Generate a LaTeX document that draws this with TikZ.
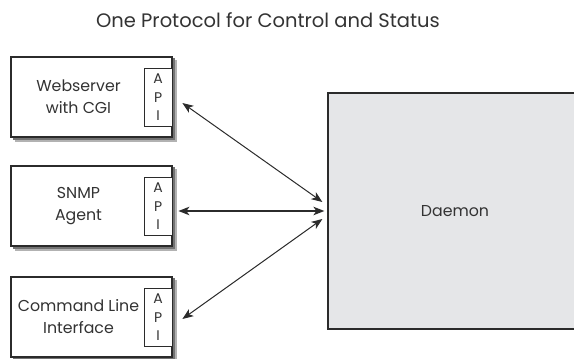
\documentclass[tikz,border=0pt]{standalone}
\usepackage{fontspec}
\setmainfont{Poppins}
\usetikzlibrary{calc,arrows.meta}
\definecolor{ink}{HTML}{2B2B2B}
\definecolor{txt}{HTML}{333333}
\definecolor{dfill}{HTML}{E5E6E8}
\tikzset{
  unit/.style={x=1pt,y=-1pt},
  outerbox/.style={draw=ink, line width=1.2pt, fill=white, minimum width=161pt, minimum height=80pt, inner sep=0pt},
  apibox/.style={draw=ink, line width=0.9pt, fill=white, minimum width=28pt, minimum height=58pt, inner sep=0pt, align=center, font=\fontsize{14}{18.5}\selectfont, text=txt},
  label/.style={align=center, font=\fontsize{15.8}{22}\selectfont, text=txt},
  conn/.style={draw=ink, line width=1pt, {Stealth[length=11pt,width=8.5pt,inset=3pt]}-{Stealth[length=11pt,width=8.5pt,inset=3pt]}},
  shadowA/.style={fill=black!30},
  shadowB/.style={fill=black!55},
}
\begin{document}
\begin{tikzpicture}[unit]
\useasboundingbox (0,0) rectangle (574,359);
\node[font=\fontsize{19.5}{22}\selectfont, text=txt] (title) at (268,20) {One Protocol for Control and Status};
% daemon
\node[draw=ink, line width=1.2pt, fill=dfill, minimum width=254pt, minimum height=236pt, inner sep=0pt] (daemon) at (455,211) {};
\node[label] (dlabel) at (455,211) {Daemon};
% client boxes
\foreach \nm/\cy/\txt in {web/97/{Webserver\\with CGI}, snmp/206/{SNMP\\Agent}, cli/317/{Command Line\\Interface}}{
  \fill[shadowA] (15,\cy-37) rectangle (176.5,\cy+44.5);
  \fill[shadowB] (13,\cy-39) rectangle (174.5,\cy+42.5);
  \node[outerbox] (\nm) at (91.5,\cy) {};
  \node[label] (\nm txt) at (78.5,\cy) {\txt};
  \node[apibox, anchor=east] (\nm api) at ($(\nm.east)+(0,0.5)$) {A\\P\\I};
}
\coordinate (t1) at ($(daemon.west)+(-145,-108)$);
\coordinate (t2) at ($(daemon.west)+(-5,-9)$);
\coordinate (m1) at ($(daemon.west)+(-149,0)$);
\coordinate (b1) at ($(daemon.west)+(-145,108)$);
\coordinate (b2) at ($(daemon.west)+(-5,8)$);
\draw[conn] (t1) -- (t2);
\draw[conn, line width=1.4pt] (m1) -- ($(daemon.west)+(-3,0)$);
\draw[conn] (b1) -- (b2);
\end{tikzpicture}
\end{document}
